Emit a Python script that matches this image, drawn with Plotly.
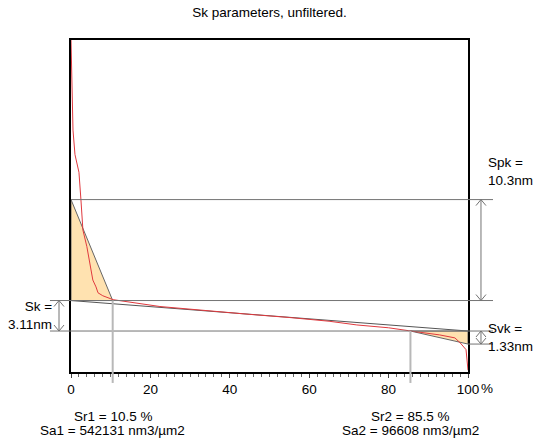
import plotly.graph_objects as go

# ---------------- data ----------------
# bearing (Abbott-Firestone) curve: material ratio (%) vs height (nm)
curve_x = [0, 0.25, 0.5, 1.0, 1.5, 2.0, 2.5, 3.0, 4.0, 4.8, 5.5, 6.3, 6.8, 8.0, 10.6,
           22.4, 35.0, 45.0, 55.0, 65.0, 72.0, 80.0, 85.1, 92.9, 96.7, 98.0, 99.5, 99.7, 100]
curve_y = [29.69, 25.6, 20.5, 18.0, 17.1, 16.2, 13.4, 10.3, 8.6, 6.9, 5.2, 4.5, 3.9, 3.6, 3.2,
           2.5, 2.02, 1.7, 1.38, 1.0, 0.62, 0.33, 0.03, -0.4, -0.7, -1.19, -1.9, -2.6, -4.0]

Sk = 3.11      # nm
Spk = 10.3     # nm
Svk = 1.33     # nm
Sr1 = 10.5     # %
Sr2 = 85.5     # %
Sa1 = 542131   # nm3/um2
Sa2 = 96608    # nm3/um2
core_low = 0.0
core_high = core_low + Sk

y_range = [-4.18, 29.69]
x_ticks = [0, 20, 40, 60, 80, 100]
x_ticktext = ["0", "20", "40", "60", "80", "100"]

title = "Sk parameters, unfiltered."

FONT = "Liberation Sans, Arial, sans-serif"
FS = 13.5
LINE_GRAY = "#737373"
FILL = "#FFE2B0"

fig = go.Figure()

# peak triangle
fig.add_trace(go.Scatter(
    x=[0, 0, Sr1, 0], y=[core_high + Spk, core_high, core_high, core_high + Spk],
    mode="lines", fill="toself", fillcolor=FILL,
    line=dict(color="#666666", width=1), hoverinfo="skip", showlegend=False))
# valley triangle
fig.add_trace(go.Scatter(
    x=[Sr2, 100, 100, Sr2], y=[core_low, core_low, core_low - Svk, core_low],
    mode="lines", fill="toself", fillcolor=FILL,
    line=dict(color="#666666", width=1), hoverinfo="skip", showlegend=False))
# equivalence line
fig.add_trace(go.Scatter(
    x=[0, 100], y=[core_high, core_low], mode="lines",
    line=dict(color="#555555", width=1), hoverinfo="skip", showlegend=False))
# bearing curve
fig.add_trace(go.Scatter(
    x=curve_x, y=curve_y, mode="lines",
    line=dict(color="#e0393e", width=1), showlegend=False))

shapes = []
# horizontal level lines
for y, x0 in [(core_high + Spk, 0.0), (core_high, -0.053), (core_low, -0.053), (core_low - Svk, 1.0)]:
    shapes.append(dict(type="line", xref="paper", yref="y", x0=x0, x1=1.063, y0=y, y1=y,
                       line=dict(color=LINE_GRAY, width=1)))

# vertical material-ratio lines
for xv, ytop in [(Sr1, core_high), (Sr2, core_low)]:
    shapes.append(dict(type="line", xref="x", yref="y", x0=xv, x1=xv, y0=ytop, y1=y_range[0],
                       line=dict(color="#b8b8b8", width=2)))
    shapes.append(dict(type="line", xref="x", yref="paper", x0=xv, x1=xv, y0=0, y1=-0.033,
                       line=dict(color="#b8b8b8", width=2)))


def add_arrow(xp, ytop, ybot):
    shapes.append(dict(type="line", xref="paper", yref="y", x0=xp, x1=xp, y0=ytop, y1=ybot,
                       line=dict(color=LINE_GRAY, width=1)))
    shapes.append(dict(type="path", xref="paper", yref="y", xsizemode="pixel", ysizemode="pixel",
                       xanchor=xp, yanchor=ytop, path="M -5,-6 L 0,0 L 5,-6",
                       line=dict(color=LINE_GRAY, width=1)))
    shapes.append(dict(type="path", xref="paper", yref="y", xsizemode="pixel", ysizemode="pixel",
                       xanchor=xp, yanchor=ybot, path="M -5,6 L 0,0 L 5,6",
                       line=dict(color=LINE_GRAY, width=1)))


add_arrow(1.0327, core_high + Spk, core_high)
add_arrow(-0.0302, core_high, core_low)
add_arrow(1.0327, core_low, core_low - Svk)

txt = dict(family=FONT, size=FS, color="black")
annotations = [
    dict(text=f"Spk =<br>{Spk}nm", xref="paper", yref="y", x=1.0453, y=core_high + Spk,
         xanchor="left", yanchor="bottom", yshift=10, align="left", showarrow=False, font=txt),
    dict(text=f"Sk =<br>{Sk}nm", xref="paper", yref="y", x=-0.0428, y=core_low + Sk / 2,
         xanchor="right", yanchor="middle", align="right", showarrow=False, font=txt),
    dict(text=f"Svk =<br>{Svk}nm", xref="paper", yref="y", x=1.0453, y=core_low - Svk / 2,
         xanchor="left", yanchor="middle", align="left", showarrow=False, font=txt),
    dict(text=f"Sr1 = {Sr1} %", xref="x", yref="paper", x=Sr1, y=-0.1355,
         xanchor="center", yanchor="middle", showarrow=False, font=txt),
    dict(text=f"Sa1 = {Sa1} nm3/µm2", xref="x", yref="paper", x=Sr1, y=-0.175,
         xanchor="center", yanchor="middle", showarrow=False, font=txt),
    dict(text=f"Sr2 = {Sr2} %", xref="x", yref="paper", x=Sr2, y=-0.1355,
         xanchor="center", yanchor="middle", showarrow=False, font=txt),
    dict(text=f"Sa2 = {Sa2} nm3/µm2", xref="x", yref="paper", x=Sr2, y=-0.175,
         xanchor="center", yanchor="middle", showarrow=False, font=txt),
    dict(text="%", xref="x", yref="paper", x=100, y=-0.051, xshift=11,
         xanchor="left", yanchor="middle", showarrow=False, font=txt),
]

fig.update_layout(
    width=533, height=443,
    margin=dict(l=71, r=65, t=40, b=71),
    paper_bgcolor="white", plot_bgcolor="white",
    font=txt,
    title=dict(text=title, x=0.5056, xref="container", xanchor="center",
               y=1 - 12.5 / 443, yref="container", yanchor="middle",
               font=dict(family=FONT, size=FS, color="black")),
    xaxis=dict(range=[0, 100], showline=True, linecolor="black", linewidth=2, mirror=True,
               ticks="outside", ticklen=4, tickcolor="#444444", tickwidth=1,
               tickvals=x_ticks, ticktext=x_ticktext, showgrid=False, zeroline=False,
               tickfont=txt,
               minor=dict(dtick=2, ticks="outside", ticklen=3, tickcolor="#666666",
                          showgrid=False)),
    yaxis=dict(range=y_range, showline=True, linecolor="black", linewidth=2, mirror=True,
               ticks="", showticklabels=False, showgrid=False, zeroline=False),
    shapes=shapes,
    annotations=annotations,
    showlegend=False,
)

fig.write_html("out.html")
